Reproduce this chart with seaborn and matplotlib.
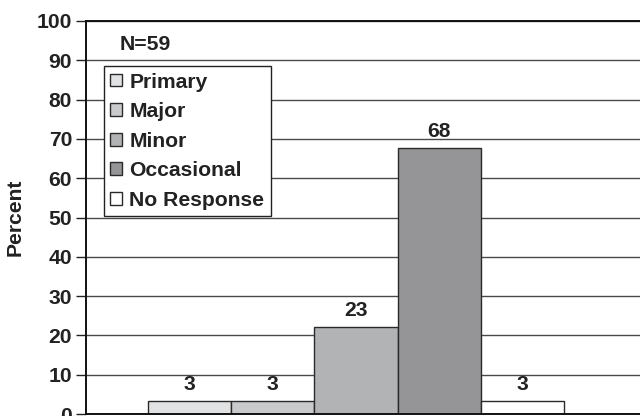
import numpy as np
import pandas as pd
import seaborn as sns
import matplotlib.pyplot as plt

# data
responses = ['Primary', 'Major', 'Minor', 'Occasional', 'No Response']
heights = [3.2, 3.2, 22.2, 67.6, 3.2]      # bar heights as drawn
labels = ['3', '3', '23', '68', '3']       # printed values above bars
colors = ['#e1e2e3', '#c9cacc', '#b1b3b6', '#949598', '#ffffff']
yticks = [0, 10, 20, 30, 40, 50, 60, 70, 80, 90, 100]

df = pd.DataFrame({'group': ['all'] * len(responses), 'response': responses, 'pct': heights})

sns.set_style('white')
plt.rcParams['font.family'] = ['Liberation Sans', 'DejaVu Sans']
plt.rcParams['font.weight'] = 'bold'
fs = 15.2

fig = plt.figure(figsize=(6.4, 4.16), dpi=100)
ax = fig.add_axes([86 / 640, 2 / 416, 554 / 640, 393 / 416])

sns.barplot(data=df, x='group', y='pct', hue='response', hue_order=responses,
            palette=dict(zip(responses, colors)), edgecolor='#2a2a2a', linewidth=1.0,
            width=0.8, ax=ax, legend=True)

for cont, lab in zip(ax.containers, labels):
    ax.bar_label(cont, labels=[lab], padding=5, fontsize=fs, fontweight='bold', color='#222222')

ax.set_xlim(-0.519, 0.546)
ax.set_ylim(0, 100)
ax.set_yticks(yticks)
ax.set_yticklabels([str(t) for t in yticks], fontsize=fs, fontweight='bold', color='#222222')
ax.set_xticks([])
ax.set_xlabel('')
ax.set_ylabel('Percent', fontsize=fs, fontweight='bold', color='#222222')
ax.yaxis.set_label_coords(-0.110, 0.5)
ax.tick_params(axis='y', direction='out', length=7, width=1.0, pad=3, color='#222222', left=True)

ax.grid(axis='y', color='#4a4a4a', linewidth=1.0)
ax.set_axisbelow(True)
for side in ['left', 'bottom', 'top']:
    ax.spines[side].set_color('#111111')
    ax.spines[side].set_linewidth(1.4)
ax.spines['right'].set_visible(False)

ax.text(0.06, 94, 'N=59', transform=ax.get_yaxis_transform(), fontsize=fs,
        fontweight='bold', va='center', color='#222222')

handles, labs = ax.get_legend_handles_labels()
leg = ax.legend(handles, labs, loc='upper left', bbox_to_anchor=(0.0325, 0.885),
                fontsize=fs, frameon=True, fancybox=False, framealpha=1,
                edgecolor='#222222', handlelength=0.55, handleheight=0.55,
                handletextpad=0.35, labelspacing=0.5, borderpad=0.3,
                borderaxespad=0)
leg.get_frame().set_linewidth(1.0)
for t in leg.get_texts():
    t.set_fontweight('bold')
    t.set_color('#222222')

fig.savefig('out.png', dpi=100)
